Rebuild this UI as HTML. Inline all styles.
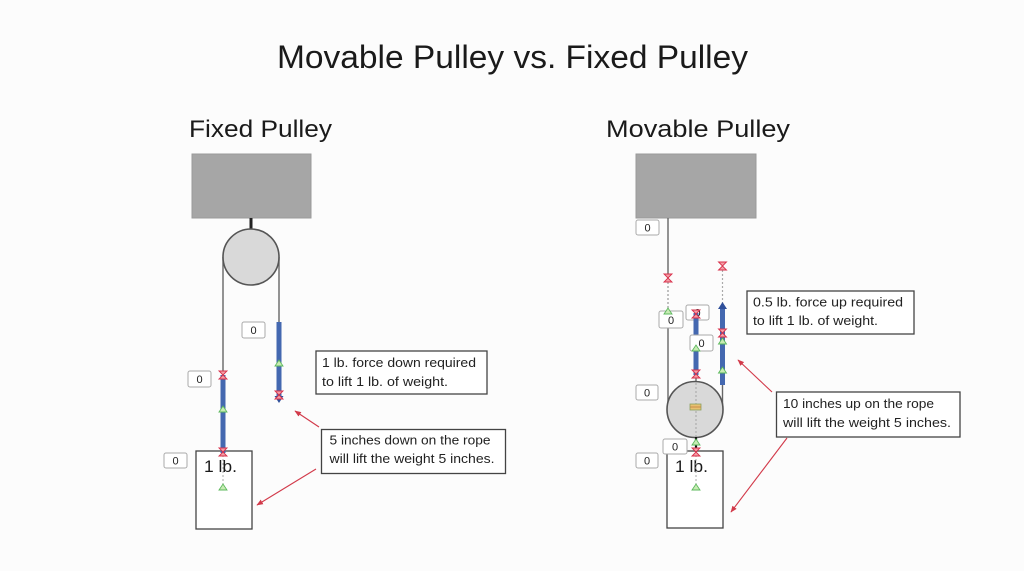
<!DOCTYPE html>
<html>
<head>
<meta charset="utf-8">
<style>
  html,body{margin:0;padding:0;background:#fcfcfc;}
  svg{display:block;}
  text{font-family:"Liberation Sans", Arial, sans-serif;}
</style>
</head>
<body>
<svg width="1024" height="571" viewBox="0 0 1024 571" xmlns="http://www.w3.org/2000/svg">
  <defs>
    <g id="red">
      <polygon points="-4,-4 4,-4 0,0" fill="#f4a0a8" stroke="#d8304a" stroke-width="0.9"/>
      <polygon points="-4,4 4,4 0,0" fill="#f4a0a8" stroke="#d8304a" stroke-width="0.9"/>
    </g>
    <g id="green">
      <polygon points="-4,3 4,3 0,-3" fill="#c8ebb4" stroke="#5cb85c" stroke-width="0.9"/>
    </g>
    <marker id="ah" viewBox="0 0 10 10" refX="9" refY="5" markerWidth="6" markerHeight="6" orient="auto">
      <path d="M0,1 L10,5 L0,9 z" fill="#d23a4a"/>
    </marker>
  </defs>

  <rect width="1024" height="571" fill="#fcfcfc"/>

  <!-- Titles -->
  <text x="277" y="68" font-size="32" fill="#1a1a1a" textLength="471" lengthAdjust="spacingAndGlyphs">Movable Pulley vs. Fixed Pulley</text>
  <text x="189" y="137" font-size="24" fill="#1a1a1a" textLength="143" lengthAdjust="spacingAndGlyphs">Fixed Pulley</text>
  <text x="606" y="137" font-size="24" fill="#1a1a1a" textLength="184" lengthAdjust="spacingAndGlyphs">Movable Pulley</text>

  <!-- ========== FIXED PULLEY ========== -->
  <rect x="192" y="154" width="119" height="64" fill="#a6a6a6" stroke="#9a9a9a" stroke-width="1"/>
  <line x1="251" y1="218" x2="251" y2="230" stroke="#222" stroke-width="3"/>
  <line x1="223" y1="257" x2="223" y2="375" stroke="#666" stroke-width="1.4"/>
  <line x1="279" y1="257" x2="279" y2="322" stroke="#666" stroke-width="1.4"/>
  <circle cx="251" cy="257" r="28" fill="#d9d9d9" stroke="#555" stroke-width="1.6"/>

  <!-- weight box -->
  <rect x="196" y="451" width="56" height="78" fill="#fff" stroke="#444" stroke-width="1.3"/>
  <text x="204" y="472" font-size="17" fill="#1a1a1a" textLength="33" lengthAdjust="spacingAndGlyphs">1 lb.</text>
  <line x1="223" y1="455" x2="223" y2="486" stroke="#aaa" stroke-width="1" stroke-dasharray="2,2"/>

  <!-- blue ropes -->
  <line x1="223" y1="375" x2="223" y2="453" stroke="#4468b0" stroke-width="5"/>
  <line x1="279" y1="322" x2="279" y2="397" stroke="#4468b0" stroke-width="5"/>
  <polygon points="274.5,396 283.5,396 279,403" fill="#2f4f9a"/>

  <!-- markers -->
  <use href="#red" x="223" y="375"/>
  <use href="#green" x="223" y="409"/>
  <use href="#red" x="223" y="452"/>
  <use href="#green" x="223" y="487"/>
  <use href="#green" x="279" y="363"/>
  <use href="#red" x="279" y="395"/>

  <!-- zero labels -->
  <g font-size="11" fill="#222" text-anchor="middle">
    <rect x="242" y="322" width="23" height="16" rx="2" fill="#fff" stroke="#aaa"/>
    <text x="253.5" y="334">0</text>
    <rect x="188" y="371" width="23" height="16" rx="2" fill="#fff" stroke="#aaa"/>
    <text x="199.5" y="383">0</text>
    <rect x="164" y="453" width="23" height="15" rx="2" fill="#fff" stroke="#aaa"/>
    <text x="175.5" y="464.5">0</text>
  </g>

  <!-- text boxes -->
  <rect x="316" y="351" width="171" height="43" fill="#fff" stroke="#444" stroke-width="1.3"/>
  <text x="322" y="367" font-size="12.5" fill="#222" textLength="154" lengthAdjust="spacingAndGlyphs">1 lb. force down required</text>
  <text x="322" y="386" font-size="12.5" fill="#222" textLength="126" lengthAdjust="spacingAndGlyphs">to lift 1 lb. of weight.</text>

  <rect x="321.5" y="429.5" width="184" height="44" fill="#fff" stroke="#444" stroke-width="1.3"/>
  <text x="329.5" y="444.5" font-size="12.5" fill="#222" textLength="161" lengthAdjust="spacingAndGlyphs">5 inches down on the rope</text>
  <text x="329.5" y="463" font-size="12.5" fill="#222" textLength="165" lengthAdjust="spacingAndGlyphs">will lift the weight 5 inches.</text>

  <!-- arrows -->
  <line x1="319" y1="427" x2="295" y2="411" stroke="#d23a4a" stroke-width="1.1" marker-end="url(#ah)"/>
  <line x1="316" y1="469" x2="257" y2="505" stroke="#d23a4a" stroke-width="1.1" marker-end="url(#ah)"/>

  <!-- ========== MOVABLE PULLEY ========== -->
  <rect x="636" y="154" width="120" height="64" fill="#a6a6a6" stroke="#9a9a9a" stroke-width="1"/>
  <!-- left rope -->
  <line x1="668" y1="218" x2="668" y2="278" stroke="#666" stroke-width="1.4"/>
  <line x1="668" y1="278" x2="668" y2="312" stroke="#999" stroke-width="1.2" stroke-dasharray="2,2"/>
  <line x1="668" y1="312" x2="668" y2="410" stroke="#666" stroke-width="1.4"/>
  <!-- right rope -->
  <line x1="722.5" y1="266" x2="722.5" y2="306" stroke="#aaa" stroke-width="1.2" stroke-dasharray="2,2"/>
  <line x1="722.5" y1="385" x2="722.5" y2="410" stroke="#666" stroke-width="1.4"/>
  <!-- middle thin -->
  <line x1="696" y1="374" x2="696" y2="383" stroke="#666" stroke-width="1.4"/>

  <circle cx="695" cy="409.5" r="28" fill="#d9d9d9" stroke="#555" stroke-width="1.6"/>
  <line x1="696" y1="383" x2="696" y2="437" stroke="#aaa" stroke-width="1.1" stroke-dasharray="2,2"/>
  <rect x="690" y="404" width="11" height="6" fill="#e8c070" stroke="#8aa060" stroke-width="0.8"/>
  <line x1="690" y1="407" x2="701" y2="407" stroke="#c08040" stroke-width="0.8"/>

  <!-- weight box -->
  <rect x="667" y="451" width="56" height="77" fill="#fff" stroke="#444" stroke-width="1.3"/>
  <text x="675" y="472" font-size="17" fill="#1a1a1a" textLength="33" lengthAdjust="spacingAndGlyphs">1 lb.</text>
  <line x1="696" y1="455" x2="696" y2="486" stroke="#aaa" stroke-width="1" stroke-dasharray="2,2"/>
  <line x1="696" y1="437" x2="696" y2="452" stroke="#111" stroke-width="2.2"/>

  <!-- zero labels (behind markers) -->
  <g font-size="11" fill="#222" text-anchor="middle">
    <rect x="636" y="220" width="23" height="15" rx="2" fill="#fff" stroke="#aaa"/>
    <text x="647.5" y="231.5">0</text>
    <rect x="659" y="311" width="24" height="17" rx="2" fill="#fff" stroke="#aaa"/>
    <text x="671" y="324">0</text>
    <rect x="686" y="305" width="23" height="15" rx="2" fill="#fff" stroke="#aaa"/>
    <text x="697.5" y="316.5">0</text>
  </g>

  <!-- blue ropes -->
  <line x1="696" y1="313" x2="696" y2="375" stroke="#4468b0" stroke-width="5"/>
  <line x1="722.5" y1="307" x2="722.5" y2="385" stroke="#4468b0" stroke-width="5"/>
  <polygon points="718,309 727,309 722.5,302" fill="#2f4f9a"/>

  <g font-size="11" fill="#222" text-anchor="middle">
    <rect x="690" y="335" width="23" height="16" rx="2" fill="#fff" stroke="#aaa"/>
    <text x="701.5" y="347">0</text>
    <rect x="636" y="385" width="22" height="15" rx="2" fill="#fff" stroke="#aaa"/>
    <text x="647" y="396.5">0</text>
    <rect x="663" y="439" width="24" height="15" rx="2" fill="#fff" stroke="#aaa"/>
    <text x="675" y="450.5">0</text>
    <rect x="636" y="453" width="22" height="15" rx="2" fill="#fff" stroke="#aaa"/>
    <text x="647" y="464.5">0</text>
  </g>

  <!-- markers -->
  <use href="#red" x="668" y="278"/>
  <use href="#green" x="668" y="311"/>
  <use href="#red" x="722.5" y="266"/>
  <use href="#red" x="722.5" y="333"/>
  <use href="#green" x="722.5" y="341"/>
  <use href="#green" x="722.5" y="370"/>
  <use href="#red" x="696" y="314"/>
  <use href="#green" x="696" y="348"/>
  <use href="#red" x="696" y="374"/>
  <use href="#green" x="696" y="442"/>
  <use href="#red" x="696" y="452"/>
  <use href="#green" x="696" y="487"/>

  <!-- text boxes -->
  <rect x="747" y="291" width="167" height="43" fill="#fff" stroke="#444" stroke-width="1.3"/>
  <text x="753" y="306.5" font-size="12.5" fill="#222" textLength="150" lengthAdjust="spacingAndGlyphs">0.5  lb. force up required</text>
  <text x="753" y="325" font-size="12.5" fill="#222" textLength="125" lengthAdjust="spacingAndGlyphs">to lift 1 lb. of weight.</text>

  <rect x="776.5" y="392" width="183.5" height="45" fill="#fff" stroke="#444" stroke-width="1.3"/>
  <text x="783" y="408" font-size="12.5" fill="#222" textLength="151" lengthAdjust="spacingAndGlyphs">10 inches up on the rope</text>
  <text x="783" y="427" font-size="12.5" fill="#222" textLength="168" lengthAdjust="spacingAndGlyphs">will lift the weight 5 inches.</text>

  <!-- arrows -->
  <line x1="772" y1="392" x2="738" y2="360" stroke="#d23a4a" stroke-width="1.1" marker-end="url(#ah)"/>
  <line x1="787" y1="438" x2="731" y2="512" stroke="#d23a4a" stroke-width="1.1" marker-end="url(#ah)"/>
</svg>
</body>
</html>
